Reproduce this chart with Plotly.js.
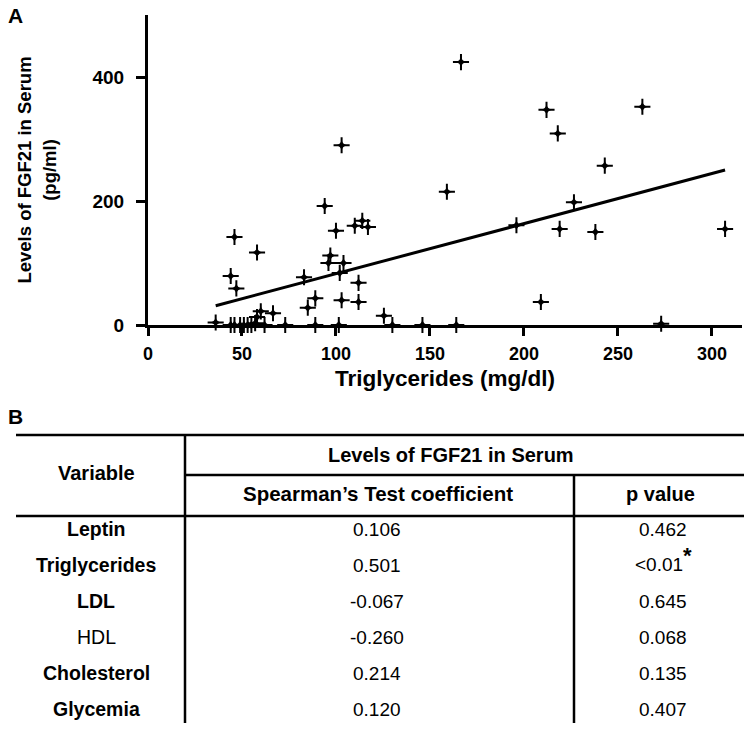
<!DOCTYPE html>
<html>
<head>
<meta charset="utf-8">
<script src="https://cdn.plot.ly/plotly-3.0.1.min.js"></script>
<style>
html,body{margin:0;padding:0;background:#fff;}
#chart{width:750px;height:729px;}
</style>
</head>
<body>
<div id="chart"></div>
<script>
// ---- Panel A data: triglycerides (mg/dl) vs FGF21 (pg/ml) ----
const trigX = [36, 44, 46, 49, 51, 53, 55, 57, 62, 73, 89, 101.5, 130, 146, 164, 273,
  58, 60, 66.5, 85, 89, 83, 44, 47, 58, 46, 94, 103, 100, 110, 114, 117,
  97, 96, 104, 102, 112, 103, 112, 125.5, 159, 166.5, 196, 209, 212, 218,
  219, 226.6, 238, 243, 263, 307];
const fgf21Y = [4, 0, 0, 0, 0, 0, 0, 3, 0, 0, 0, 0, 0, 0, 0, 2,
  13, 22, 19, 28, 43, 77, 79, 59, 117, 142, 192, 290, 152, 160, 168, 158,
  112, 100, 100, 84, 68, 40, 37, 15, 215, 424, 161, 37, 347, 309,
  155, 198, 150, 257, 352, 155];
// regression line end points
const fitX = [36, 307];
const fitY = [31, 250];
const xTicks = [0, 50, 100, 150, 200, 250, 300];
const yTicks = [0, 200, 400];

// ---- Panel B table data ----
const headerGroup = "Levels of FGF21 in Serum";
const headerVariable = "Variable";
const headerCoef = "Spearman\u2019s Test coefficient";
const headerP = "p value";
const variables = ["Leptin", "Triglycerides", "LDL", "HDL", "Cholesterol", "Glycemia"];
const coefficients = ["0.106", "0.501", "-0.067", "-0.260", "0.214", "0.120"];
const pValues = ["0.462", "<0.01*", "0.645", "0.068", "0.135", "0.407"];

// ---- helpers: pixel -> paper ----
const W = 750, H = 729;
const px = x => x / W;
const py = y => 1 - y / H;
const FONT = "Liberation Sans, Arial, sans-serif";

const traces = [
  { // thin arms of the four-pointed star
    x: trigX, y: fgf21Y, type: "scatter", mode: "markers",
    marker: {symbol: "cross-thin", size: 11.5, color: "#000", line: {color: "#000", width: 2}},
    cliponaxis: false, hoverinfo: "x+y"
  },
  { // tapered centre of the star
    x: trigX, y: fgf21Y, type: "scatter", mode: "markers",
    marker: {symbol: "star-diamond", size: 7.5, color: "#000", line: {width: 0}},
    cliponaxis: false, hoverinfo: "skip"
  },
  {
    x: fitX, y: fitY, type: "scatter", mode: "lines",
    line: {color: "#000", width: 3}, cliponaxis: false, hoverinfo: "skip"
  }
];

const shapes = [];
const annotations = [];
function hline(x0, x1, y) {
  shapes.push({type: "line", xref: "paper", yref: "paper", x0: px(x0), x1: px(x1), y0: py(y), y1: py(y), line: {color: "#000", width: 2.5}});
}
function vline(x, y0, y1) {
  shapes.push({type: "line", xref: "paper", yref: "paper", x0: px(x), x1: px(x), y0: py(y0), y1: py(y1), line: {color: "#000", width: 2.5}});
}
function text(t, x, y, size, bold, xanchor, yshift) {
  annotations.push({text: t, xref: "paper", yref: "paper", x: px(x), y: py(y), xanchor: xanchor || "center", yanchor: "middle", showarrow: false,
    yshift: yshift || 0,
    font: {family: FONT, size: size, color: "#000", weight: bold ? "bold" : "normal"}});
}
// a trailing significance star is drawn as a larger bold superscript
function isStarred(p) { return p.endsWith("*"); }
function fmtP(p) {
  return isStarred(p)
    ? p.slice(0, -1).replace("<", "&lt;") + '<sup><span style="font-size:22px;font-weight:bold">*</span></sup>'
    : p;
}

// panel letters
text("A", 6, 16, 21, true, "left");
text("B", 6, 416, 21, true, "left");

// table lines
hline(16, 744, 435);
hline(185, 744, 475);
hline(16, 744, 516);
vline(185, 435, 723);
vline(574, 475, 723);

// table headers
text(headerVariable, 96, 473, 20, true);
text(headerGroup, 451, 455, 20, true);
text(headerCoef, 378, 494, 20.5, true);
text(headerP, 660, 494, 20, true);

// table body
const regularLabels = ["HDL"];
const rowY0 = 529, rowStep = 36;
variables.forEach((v, i) => {
  const y = rowY0 + i * rowStep;
  text(v, 96, y, 19.5, regularLabels.indexOf(v) < 0);
  text(coefficients[i], 377, y, 19, false);
  text(fmtP(pValues[i]), 663, y, 19, false, "center", isStarred(pValues[i]) ? 6 : 0);
});

const layout = {
  width: W, height: H,
  margin: {l: 0, r: 0, t: 0, b: 0},
  paper_bgcolor: "#fff", plot_bgcolor: "#fff",
  showlegend: false,
  font: {family: FONT, color: "#000"},
  xaxis: {
    domain: [px(148), px(742)], range: [0, 316],
    showline: true, linewidth: 3, linecolor: "#000",
    showgrid: false, zeroline: false,
    ticks: "outside", ticklen: 8, tickwidth: 3, tickcolor: "#000",
    tickvals: xTicks, ticktext: xTicks.map(String),
    tickfont: {family: FONT, size: 18, weight: "bold", color: "#000"},
    ticklabelstandoff: 2,
    title: {text: "Triglycerides (mg/dl)", font: {family: FONT, size: 22.5, weight: "bold", color: "#000"}, standoff: 8},
    automargin: false, fixedrange: true
  },
  yaxis: {
    domain: [py(325), py(15)], range: [0, 500],
    showline: true, linewidth: 3, linecolor: "#000",
    showgrid: false, zeroline: false,
    ticks: "outside", ticklen: 9, tickwidth: 3, tickcolor: "#000",
    tickvals: yTicks, ticktext: yTicks.map(String),
    tickfont: {family: FONT, size: 19, weight: "bold", color: "#000"},
    ticklabelstandoff: 8,
    title: {text: "Levels of FGF21 in Serum<br>(pg/ml)", font: {family: FONT, size: 18.5, weight: "bold", color: "#000"}, standoff: 32},
    automargin: false, fixedrange: true
  },
  shapes: shapes,
  annotations: annotations
};

Plotly.newPlot("chart", traces, layout, {displayModeBar: false, staticPlot: true});
</script>
</body>
</html>
